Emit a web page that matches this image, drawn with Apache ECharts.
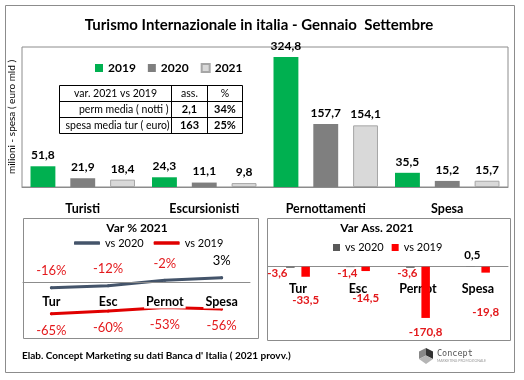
<!DOCTYPE html>
<html><head><meta charset="utf-8">
<script src="https://cdn.jsdelivr.net/npm/echarts@6/dist/echarts.min.js"></script>
<style>html,body{margin:0;padding:0;background:#fff}#c{width:524px;height:380px}</style>
</head><body><div id="c"></div>
<script>
// ---- data ----
const categories = ['Turisti', 'Escursionisti', 'Pernottamenti', 'Spesa'];
const v2019 = [51.8, 24.3, 324.8, 35.5];
const v2020 = [21.9, 11.1, 157.7, 15.2];
const v2021 = [18.4, 9.8, 154.1, 15.7];
const shortCats = ['Tur', 'Esc', 'Pernot', 'Spesa'];
const pctVs2020 = [-16, -12, -2, 3];
const pctVs2019 = [-65, -60, -53, -56];
const absVs2020 = [-3.6, -1.4, -3.6, 0.5];
const absVs2019 = [-33.5, -14.5, -170.8, -19.8];
const tableHeader = ['var. 2021 vs 2019', 'ass.', '%'];
const tableRow1 = ['perm media ( notti )', '2,1', '34%'];
const tableRow2 = ['spesa media tur ( euro)', '163', '25%'];

// ---- styling ----
const FONT = 'Lato';
const RED = '#E3191C';
const BORDER = '#8c8c8c';
const fmt1 = v => v.toFixed(1).replace('.', ',');

const chart = echarts.init(document.getElementById('c'), null, { renderer: 'canvas' });

const mainLabel = {
  show: true, position: 'top', distance: 5,
  formatter: p => fmt1(p.value),
  fontFamily: FONT, fontSize: 12, fontWeight: 'bold', color: '#000'
};

// label tweaks for the small "Var Ass." chart (style only)
const grayShift = [-13, -3, -3, 2];
const redDist = [18, 21, 8, 34];

function txt(x, y, text, o) {
  return {
    type: 'text', x: x, y: y, z: 50,
    style: Object.assign({ text: text, fontFamily: FONT, fontSize: 12, fill: '#000',
      textAlign: 'left', textVerticalAlign: 'middle' }, o || {})
  };
}
function line(x1, y1, x2, y2, color) {
  return { type: 'line', z: 50, shape: { x1: x1, y1: y1, x2: x2, y2: y2 },
    style: { stroke: color || '#000', lineWidth: 1 } };
}

const TF = 10.5;
const tX = [59.5, 171.5, 207.5, 242.5];
const tY = [85.5, 101.5, 117.5, 133.5];
const tableEls = [
  { type: 'rect', z: 49, shape: { x: tX[0], y: tY[0], width: tX[3] - tX[0], height: tY[3] - tY[0] },
    style: { fill: '#fff', stroke: '#000', lineWidth: 1 } },
  line(tX[0], tY[1], tX[3], tY[1]), line(tX[0], tY[2], tX[3], tY[2]),
  line(tX[1], tY[0], tX[1], tY[3]), line(tX[2], tY[0], tX[2], tY[3]),
  txt((tX[0] + tX[1]) / 2, (tY[0] + tY[1]) / 2, tableHeader[0], { textAlign: 'center', fontSize: TF }),
  txt((tX[1] + tX[2]) / 2, (tY[0] + tY[1]) / 2, tableHeader[1], { textAlign: 'center', fontSize: TF }),
  txt((tX[2] + tX[3]) / 2, (tY[0] + tY[1]) / 2, tableHeader[2], { textAlign: 'center', fontSize: TF }),
  txt(tX[1] - 3, (tY[1] + tY[2]) / 2, tableRow1[0], { textAlign: 'right', fontSize: TF }),
  txt((tX[1] + tX[2]) / 2, (tY[1] + tY[2]) / 2, tableRow1[1], { textAlign: 'center', fontSize: TF + 0.5, fontWeight: 'bold' }),
  txt((tX[2] + tX[3]) / 2, (tY[1] + tY[2]) / 2, tableRow1[2], { textAlign: 'center', fontSize: TF + 0.5, fontWeight: 'bold' }),
  txt(tX[1] - 2, (tY[2] + tY[3]) / 2, tableRow2[0], { textAlign: 'right', fontSize: TF }),
  txt((tX[1] + tX[2]) / 2, (tY[2] + tY[3]) / 2, tableRow2[1], { textAlign: 'center', fontSize: TF + 0.5, fontWeight: 'bold' }),
  txt((tX[2] + tX[3]) / 2, (tY[2] + tY[3]) / 2, tableRow2[2], { textAlign: 'center', fontSize: TF + 0.5, fontWeight: 'bold' })
];

const option = {
  animation: false,
  textStyle: { fontFamily: FONT },
  grid: [
    { left: 22, top: 47, width: 486, height: 140, show: true, borderColor: BORDER, borderWidth: 1 },
    { left: 23, top: 258.1, width: 227, height: 74.2 },
    { left: 268, top: 251.7, width: 240, height: 75 }
  ],
  legend: [
    { data: ['2019', '2020', '2021'], left: 95, top: 62, padding: 0, icon: 'rect',
      itemWidth: 8, itemHeight: 8, itemGap: 12, selectedMode: false,
      textStyle: { fontFamily: FONT, fontSize: 12, fontWeight: 'bold', color: '#000' } },
    { data: ['vs 2020', 'vs 2019'], left: 74, top: 237.5, padding: 0, icon: 'roundRect',
      itemWidth: 26, itemHeight: 3.5, itemGap: 10, selectedMode: false,
      textStyle: { fontFamily: FONT, fontSize: 11, color: '#000' } },
    { data: ['vs 2020 ', 'vs 2019 '], left: 333, top: 242, padding: 0, icon: 'rect',
      itemWidth: 7, itemHeight: 7, itemGap: 8, selectedMode: false,
      formatter: n => n.trim(),
      textStyle: { fontFamily: FONT, fontSize: 11, color: '#000' } }
  ],
  xAxis: [
    { gridIndex: 0, type: 'category', data: categories,
      axisLine: { lineStyle: { color: BORDER } },
      axisTick: { length: 6, lineStyle: { color: BORDER } },
      axisLabel: { margin: 15, fontFamily: FONT, fontSize: 12.5, fontWeight: 'bold', color: '#000' } },
    { gridIndex: 1, type: 'category', data: shortCats, z: 5, position: 'bottom', offset: -50.3,
      axisLine: { onZero: false, lineStyle: { color: BORDER } },
      axisTick: { length: 4, lineStyle: { color: BORDER } },
      axisLabel: { margin: 13.5, fontFamily: FONT, fontSize: 12.5, fontWeight: 'bold', color: '#000',
        backgroundColor: '#fff', padding: [0, 2] } },
    { gridIndex: 2, type: 'category', data: shortCats, position: 'bottom', offset: -60,
      axisLine: { onZero: false, lineStyle: { color: BORDER } },
      axisTick: { length: 3, lineStyle: { color: BORDER } },
      axisLabel: { margin: 16, fontFamily: FONT, fontSize: 12.5, fontWeight: 'bold', color: '#000' } }
  ],
  yAxis: [
    { gridIndex: 0, type: 'value', min: 0, max: 350, show: false },
    { gridIndex: 1, type: 'value', min: -100, max: 40, show: false },
    { gridIndex: 2, type: 'value', min: -200, max: 50, show: false }
  ],
  series: [
    { name: '2019', type: 'bar', xAxisIndex: 0, yAxisIndex: 0, data: v2019,
      barGap: '60%', barCategoryGap: '14%', itemStyle: { color: '#00B050' }, label: mainLabel },
    { name: '2020', type: 'bar', xAxisIndex: 0, yAxisIndex: 0, data: v2020,
      barGap: '60%', barCategoryGap: '14%', itemStyle: { color: '#7F7F7F' }, label: mainLabel },
    { name: '2021', type: 'bar', xAxisIndex: 0, yAxisIndex: 0, data: v2021,
      barGap: '60%', barCategoryGap: '14%',
      itemStyle: { color: '#D9D9D9', borderColor: '#A6A6A6', borderWidth: 1 }, label: mainLabel },

    { name: 'vs 2020', type: 'line', xAxisIndex: 1, yAxisIndex: 1, data: pctVs2020,
      symbol: 'circle', symbolSize: 3, lineStyle: { color: '#44546A', width: 3, cap: 'round' },
      itemStyle: { color: '#44546A' },
      label: { show: true, position: 'top', distance: 9,
        formatter: p => (p.value < 0 ? '{n|' : '{p|') + p.value + '%}',
        rich: { n: { color: RED, fontSize: 13, fontFamily: FONT }, p: { color: '#000', fontSize: 13, fontFamily: FONT } } } },
    { name: 'vs 2019', type: 'line', xAxisIndex: 1, yAxisIndex: 1, data: pctVs2019,
      symbol: 'circle', symbolSize: 3, lineStyle: { color: '#E00000', width: 3, cap: 'round' },
      itemStyle: { color: '#E00000' },
      label: { show: true, position: 'bottom', distance: 9, formatter: p => p.value + '%',
        color: RED, fontSize: 13, fontFamily: FONT } },

    { name: 'vs 2020 ', type: 'bar', xAxisIndex: 2, yAxisIndex: 2,
      data: absVs2020.map((v, i) => ({ value: v,
        label: { position: v < 0 ? 'bottom' : 'top', distance: v < 0 ? 0 : 5, offset: [grayShift[i], 0],
          color: v < 0 ? RED : '#000' } })),
      barWidth: 8.5, barGap: '80%', itemStyle: { color: '#595959' },
      label: { show: true, formatter: p => fmt1(p.value), fontFamily: FONT, fontSize: 11.5, fontWeight: 'bold' } },
    { name: 'vs 2019 ', type: 'bar', xAxisIndex: 2, yAxisIndex: 2,
      data: absVs2019.map((v, i) => ({ value: v, label: { distance: redDist[i] } })),
      barWidth: 8.5, barGap: '80%', itemStyle: { color: '#FF0000' },
      label: { show: true, position: 'bottom', formatter: p => fmt1(p.value), color: RED,
        fontFamily: FONT, fontSize: 11.5, fontWeight: 'bold' } }
  ],
  graphic: [
    { type: 'rect', z: -1, silent: true, shape: { x: 5.5, y: 5.5, width: 509, height: 367 },
      style: { fill: 'none', stroke: BORDER, lineWidth: 1 } },
    { type: 'rect', z: -1, silent: true, shape: { x: 23.5, y: 218.5, width: 235, height: 120 },
      style: { fill: 'none', stroke: BORDER, lineWidth: 1 } },
    { type: 'rect', z: -1, silent: true, shape: { x: 267.5, y: 218.5, width: 243, height: 122 },
      style: { fill: 'none', stroke: BORDER, lineWidth: 1 } },
    txt(259, 25, 'Turismo Internazionale in italia - Gennaio  Settembre',
      { textAlign: 'center', fontSize: 15, fontWeight: 'bold' }),
    Object.assign(txt(12, 117, 'milioni - spesa ( euro mld )', { textAlign: 'center', fontSize: 10 }),
      { rotation: Math.PI / 2 }),
    txt(137, 228, 'Var % 2021', { textAlign: 'center', fontSize: 12, fontWeight: 'bold' }),
    txt(377, 228, 'Var Ass. 2021', { textAlign: 'center', fontSize: 12, fontWeight: 'bold' }),
    txt(22, 356, "Elab. Concept Marketing su dati Banca d' Italia ( 2021 provv.)", { fontSize: 10, fontWeight: 'bold' }),
    { type: 'polygon', z: 50, shape: { points: [[426, 348], [433, 351.5], [433, 359], [426, 355.5]] }, style: { fill: '#333' } },
    { type: 'polygon', z: 50, shape: { points: [[419, 351.5], [426, 348], [426, 355.5], [419, 359]] }, style: { fill: '#888' } },
    { type: 'polygon', z: 50, shape: { points: [[419, 359], [426, 355.5], [433, 359], [426, 364]] }, style: { fill: '#b5b5b5' } },
    txt(437, 354, 'Concept', { fontFamily: 'DejaVu Sans Mono', fontSize: 8.5, fill: '#555' }),
    txt(437, 361, 'MARKETING PROMOZIONALE', { fontSize: 3.5, fill: '#999' })
  ].concat(tableEls)
};
chart.setOption(option);
</script>
</body></html>
